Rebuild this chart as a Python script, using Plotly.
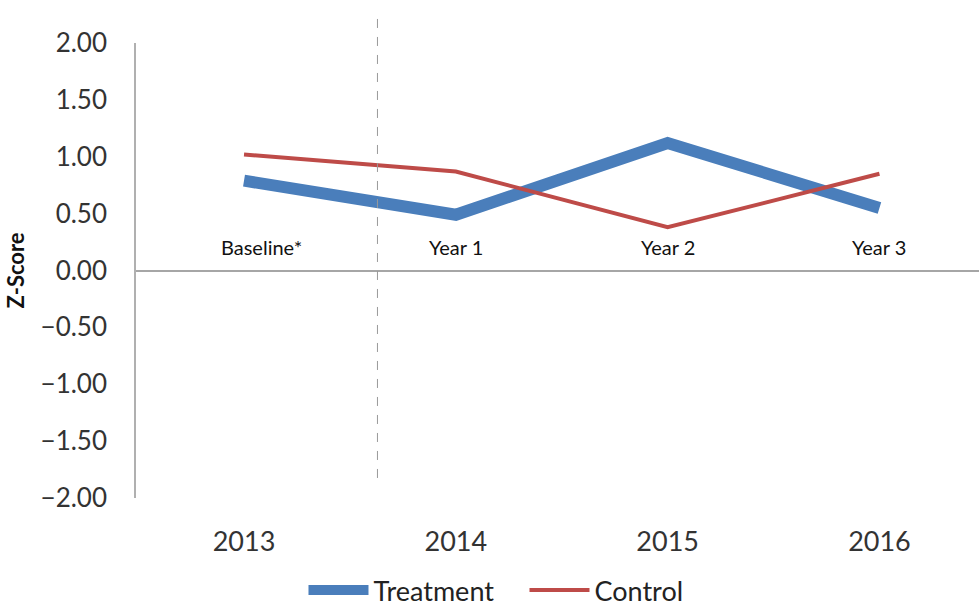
import plotly.graph_objects as go

years = ["2013", "2014", "2015", "2016"]
treatment = [0.79, 0.49, 1.12, 0.55]
control = [1.02, 0.87, 0.38, 0.85]
phase_labels = ["Baseline*", "Year 1", "Year 2", "Year 3"]
y_ticks = [2.0, 1.5, 1.0, 0.5, 0.0, -0.5, -1.0, -1.5, -2.0]

FONT = "Lato, Open Sans, sans-serif"

fig = go.Figure()
fig.add_trace(go.Scatter(x=years, y=treatment, mode="lines", name="Treatment",
                         line=dict(color="#4a7ebb", width=12)))
fig.add_trace(go.Scatter(x=years, y=control, mode="lines", name="Control",
                         line=dict(color="#be4b48", width=4)))

for i, lab in enumerate(phase_labels):
    fig.add_annotation(x=i, y=0.21, xref="x", yref="y", text=lab, showarrow=False,
                       xshift=17 if i == 0 else 0,
                       font=dict(family=FONT, size=20, color="#111"))

fig.add_shape(type="line", xref="x", yref="paper", x0=0.63, x1=0.63, y0=0.044, y1=1.0725,
              line=dict(color="#999", width=1, dash="dash"))

fig.update_layout(
    width=979, height=615,
    margin=dict(l=136, r=0, t=43, b=117),
    plot_bgcolor="white", paper_bgcolor="white",
    font=dict(family=FONT, color="#333"),
    showlegend=True,
    legend=dict(orientation="h", xref="container", yref="container",
                x=0.31, xanchor="left", y=-0.012, yanchor="bottom",
                entrywidth=146, entrywidthmode="pixels",
                font=dict(size=27, color="#222"), itemwidth=60),
    xaxis=dict(type="category", range=[-0.51, 3.47], showgrid=False, showline=False,
               ticks="outside", ticklen=20, tickcolor="rgba(0,0,0,0)",
               tickfont=dict(size=27, color="#333"), zeroline=False),
    yaxis=dict(range=[-2, 2], tickvals=y_ticks, tickformat=".2f", showgrid=False,
               showline=True, linecolor="#b0b0b0", linewidth=1.5,
               zeroline=True, zerolinecolor="#a6a6a6", zerolinewidth=2,
               ticks="outside", ticklen=22, tickcolor="rgba(0,0,0,0)",
               tickfont=dict(size=26, color="#333"),
               title=dict(text="<b>Z-Score</b>", font=dict(size=22, color="#111"), standoff=10)),
)

fig.write_html("out.html")
